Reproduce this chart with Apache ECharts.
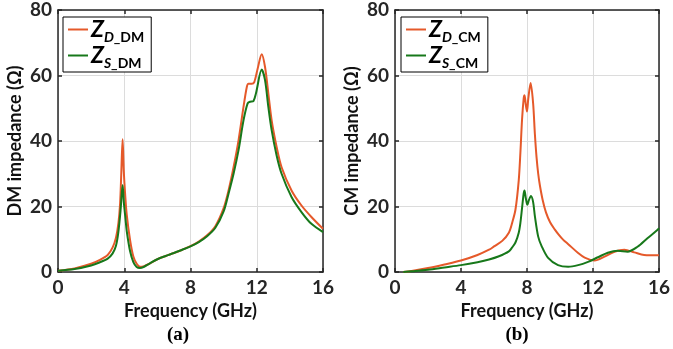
<!DOCTYPE html>
<html>
<head>
<meta charset="utf-8">
<script src="https://cdn.jsdelivr.net/npm/echarts@6/dist/echarts.min.js"></script>
<style>
html,body{margin:0;padding:0;background:#fff;}
#chart{width:673px;height:349px;}
</style>
</head>
<body>
<div id="chart"></div>
<script>
// ---- Data ----
var xTicks = [0, 4, 8, 12, 16];
var yTicks = [0, 20, 40, 60, 80];

// (a) DM impedance
var fD_DM = [0,1,2,2.5,3,3.3,3.5,3.65,3.75,3.82,3.9,3.97,4.05,4.15,4.35,4.55,4.75,4.95,5.2,5.5,6,6.5,7,7.5,8,8.5,9,9.5,10,10.3,10.6,10.9,11.2,11.4,11.5,11.7,11.85,12.05,12.3,12.5,12.7,12.9,13.2,13.5,14.1,14.7,15.3,16];
var zD_DM = [0.4,1.1,2.5,3.6,5.2,7.5,10.5,15,21,30,40.5,31,24,17.5,9.8,4.7,2.5,1.6,1.8,2.5,3.9,4.9,5.8,6.8,7.9,9.3,11.2,14,19.5,25,32,40.2,50.4,56.5,57.5,57.5,58,62,66.5,62.6,54.5,46.3,38.2,32,24.9,20.3,16.8,13.2];
var fS_DM = [0,1,2,2.5,3,3.3,3.5,3.64,3.78,3.9,3.98,4.08,4.15,4.35,4.55,4.75,4.95,5.2,5.5,6,6.5,7,7.5,8,8.5,9,9.5,10,10.3,10.6,10.9,11.2,11.45,11.6,11.8,11.95,12.3,12.5,12.7,12.9,13.2,13.5,14.1,14.7,15.3,16];
var zS_DM = [0.4,0.9,2.0,2.9,4.1,5.7,8,12,19,26.6,21,16,12.5,6.4,3,1.5,1.2,1.6,2.5,3.9,4.9,5.8,6.8,7.8,9.1,10.9,13.5,18.5,24,30,37.2,46.3,51.5,52,52.2,54.5,61.8,58.6,50.4,43.3,35.6,30,22.9,18.3,14.7,12.2];

// (b) CM impedance
var fD_CM = [0.5,1,2,3,4,5,5.7,6,6.5,6.9,7.1,7.3,7.5,7.6,7.7,7.8,7.85,7.93,8.0,8.08,8.22,8.37,8.48,8.58,8.68,8.78,8.95,9.15,9.4,9.68,9.92,10.2,10.5,11.1,11.5,12.1,12.7,13.3,13.9,14.5,15.1,16];
var zD_CM = [0,0.3,1.2,2.3,3.5,5.2,6.8,7.8,9.5,12,15,19,28,36.4,46.5,53,54,51,49,53,57.7,51.6,42,35,30,26.5,22,18.2,15.2,13,11.4,9.8,8.5,5.8,4.4,3.5,4.7,6.2,6.8,6,5.2,5.1];
var fS_CM = [0.5,1,2,3,4,5,5.7,6.3,6.9,7.1,7.3,7.5,7.6,7.7,7.8,7.85,7.93,8.02,8.12,8.24,8.37,8.48,8.68,8.88,9.28,9.88,10.5,11.1,11.7,12.3,12.9,13.5,14.1,14.7,15.3,15.9,16];
var zS_CM = [0,0.2,0.7,1.4,2.1,3,3.8,4.8,6.3,7.5,9,12,15,19.5,24,24.9,22.5,20.5,22,23.2,21.4,17,10.8,8,4.3,2.1,1.6,2.1,3.1,4.5,5.9,6.5,6.2,7.7,10.3,12.8,13.4];

var ORANGE = '#E5592A';
var GREEN = '#17781A';
var AXC = '#262626';

function pairs(xs, ys){ return xs.map(function(x,i){ return [x, ys[i]]; }); }

var FONT = 'Lato';
function xAxisMain(gi, name){
  return {
    type:'value', gridIndex:gi, min:xTicks[0], max:xTicks[xTicks.length-1], interval:4,
    name:name, nameLocation:'middle', nameGap:26,
    nameTextStyle:{fontFamily:FONT, fontWeight:'bold', fontSize:18, color:'#111'},
    axisLine:{show:true, onZero:false, lineStyle:{color:AXC, width:1.5}},
    axisTick:{show:true, inside:true, length:4, lineStyle:{color:AXC, width:1.5}},
    axisLabel:{fontFamily:FONT, fontWeight:'bold', fontSize:19, color:AXC, margin:6},
    splitLine:{show:true, lineStyle:{color:'#dcdcdc', width:1}}
  };
}
function xAxisTop(gi){
  return {
    type:'value', gridIndex:gi, position:'top', min:0, max:16, interval:4,
    axisLine:{show:true, onZero:false, lineStyle:{color:AXC, width:1.5}},
    axisTick:{show:true, inside:true, length:4, lineStyle:{color:AXC, width:1.5}},
    axisLabel:{show:false}, splitLine:{show:false}
  };
}
function yAxisMain(gi, name){
  return {
    type:'value', gridIndex:gi, min:yTicks[0], max:yTicks[yTicks.length-1], interval:20,
    name:name, nameLocation:'middle', nameGap:34, nameRotate:90,
    nameTextStyle:{fontFamily:FONT, fontWeight:'bold', fontSize:18, color:'#111'},
    axisLine:{show:true, onZero:false, lineStyle:{color:AXC, width:1.5}},
    axisTick:{show:true, inside:true, length:4, lineStyle:{color:AXC, width:1.5}},
    axisLabel:{fontFamily:FONT, fontWeight:'bold', fontSize:19, color:AXC, margin:6},
    splitLine:{show:true, lineStyle:{color:'#dcdcdc', width:1}}
  };
}
function yAxisRight(gi){
  return {
    type:'value', gridIndex:gi, position:'right', min:0, max:80, interval:20,
    axisLine:{show:true, onZero:false, lineStyle:{color:AXC, width:1.5}},
    axisTick:{show:true, inside:true, length:4, lineStyle:{color:AXC, width:1.5}},
    axisLabel:{show:false}, splitLine:{show:false}
  };
}

var rich = {
  z:{fontFamily:FONT, fontStyle:'italic', fontWeight:'bold', fontSize:23, color:'#000', verticalAlign:'bottom'},
  s:{fontFamily:FONT, fontStyle:'italic', fontWeight:'bold', fontSize:14, color:'#000', verticalAlign:'bottom', padding:[0,0,-3,0]},
  t:{fontFamily:FONT, fontWeight:'bold', fontSize:14, color:'#000', verticalAlign:'bottom', padding:[0,0,-3,0]}
};
var legendNames = {
  'ZD_DM':'{z|Z}{s|D}{t|_DM}', 'ZS_DM':'{z|Z}{s|S}{t|_DM}',
  'ZD_CM':'{z|Z}{s|D}{t|_CM}', 'ZS_CM':'{z|Z}{s|S}{t|_CM}'
};
function legend(left, names){
  return {
    left:left, top:17, orient:'vertical', data:names,
    icon:'rect', itemWidth:20, itemHeight:2, itemGap:0,
    padding:[1,7,2,5],
    backgroundColor:'#fff', borderColor:'#000', borderWidth:1, borderRadius:0,
    formatter:function(n){ return legendNames[n]; },
    textStyle:{rich:rich, padding:[0,0,0,-2]}
  };
}
function line(name, xi, yi, data, color){
  return {
    name:name, type:'line', xAxisIndex:xi, yAxisIndex:yi, data:data,
    showSymbol:false, symbol:'none', smooth:0.3,
    lineStyle:{color:color, width:2}, itemStyle:{color:color}, z:3
  };
}

var chart = echarts.init(document.getElementById('chart'), null, {renderer:'canvas'});
chart.setOption({
  animation:false,
  backgroundColor:'#fff',
  title:[
    {text:'(a)', left:173, top:321, textAlign:'center', textStyle:{fontFamily:'Liberation Serif', fontWeight:'bold', fontSize:19, color:'#000'}},
    {text:'(b)', left:512, top:321, textAlign:'center', textStyle:{fontFamily:'Liberation Serif', fontWeight:'bold', fontSize:19, color:'#000'}}
  ],
  grid:[
    {left:58, top:10, width:265, height:262, show:false},
    {left:395, top:10, width:266, height:262, show:false}
  ],
  legend:[ legend(63, ['ZD_DM','ZS_DM']), legend(401, ['ZD_CM','ZS_CM']) ],
  xAxis:[ xAxisMain(0,'Frequency (GHz)'), xAxisTop(0), xAxisMain(1,'Frequency (GHz)'), xAxisTop(1) ],
  yAxis:[ yAxisMain(0,'DM impedance (Ω)'), yAxisRight(0), yAxisMain(1,'CM impedance (Ω)'), yAxisRight(1) ],
  series:[
    line('ZD_DM', 0, 0, pairs(fD_DM, zD_DM), ORANGE),
    line('ZS_DM', 0, 0, pairs(fS_DM, zS_DM), GREEN),
    line('ZD_CM', 2, 2, pairs(fD_CM, zD_CM), ORANGE),
    line('ZS_CM', 2, 2, pairs(fS_CM, zS_CM), GREEN)
  ]
});
</script>
</body>
</html>
